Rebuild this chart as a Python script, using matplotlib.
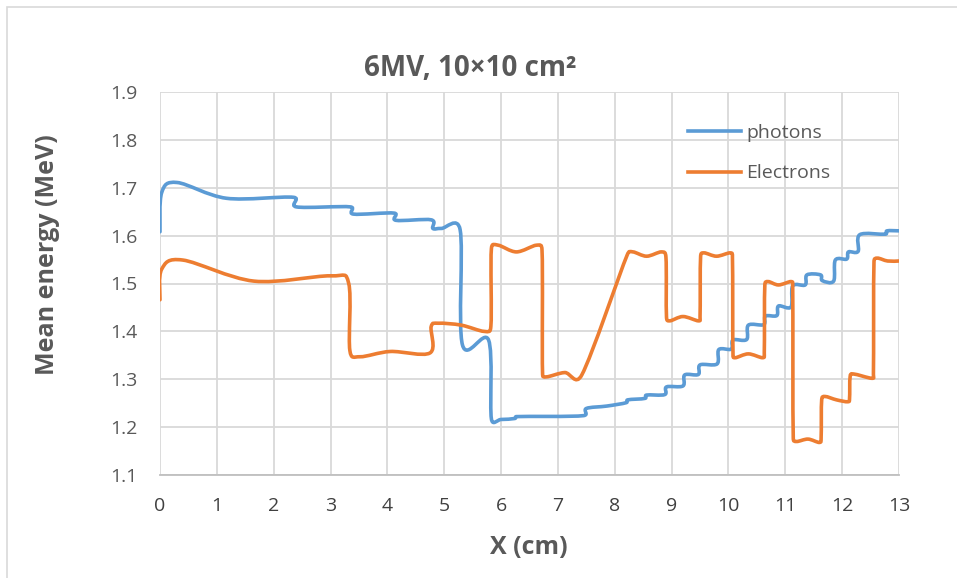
import matplotlib
matplotlib.use('Agg')
import matplotlib.pyplot as plt
from matplotlib.path import Path
from matplotlib.patches import PathPatch, Rectangle
from matplotlib.lines import Line2D
import numpy as np

# photons (blue)
photon_x = [0.0, 0.03, 0.3, 1.17, 2.35, 2.40, 3.35, 3.40, 4.12, 4.15, 4.77, 4.80,
            4.95, 5.28, 5.32, 5.78, 5.83, 6.0, 6.24, 6.27, 7.45, 7.50, 7.86, 8.2,
            8.23, 8.53, 8.56, 8.88, 8.91, 9.2, 9.23, 9.47, 9.50, 9.80, 9.83, 10.05,
            10.08, 10.32, 10.35, 10.62, 10.65, 10.85, 10.88, 11.1, 11.13, 11.35,
            11.38, 11.62, 11.65, 11.85, 11.88, 12.08, 12.11, 12.28, 12.31, 12.76,
            12.79, 13.0]
photon_y = [1.608, 1.69, 1.711, 1.678, 1.680, 1.660, 1.660, 1.645, 1.647, 1.632, 1.633, 1.615,
            1.615, 1.612, 1.372, 1.382, 1.217, 1.216, 1.218, 1.222, 1.224, 1.239, 1.244, 1.251,
            1.257, 1.260, 1.267, 1.268, 1.284, 1.286, 1.309, 1.310, 1.330, 1.332, 1.362, 1.363,
            1.382, 1.383, 1.413, 1.414, 1.432, 1.433, 1.453, 1.451, 1.495, 1.497,
            1.518, 1.518, 1.506, 1.505, 1.549, 1.551, 1.566, 1.567, 1.602, 1.603,
            1.610, 1.610]

# electrons (orange)
electron_x = [0.0, 0.03, 0.4, 1.65, 3.0, 3.32, 3.34, 3.52, 4.05, 4.75, 4.77, 4.9,
              5.3, 5.7, 5.82, 5.83, 5.95, 6.27, 6.62, 6.72, 6.73, 6.8, 7.12, 7.42,
              8.22, 8.32, 8.56, 8.82, 8.9, 8.91, 8.97, 9.2, 9.47, 9.5, 9.51, 9.57,
              9.79, 10.03, 10.07, 10.08, 10.12, 10.35, 10.6, 10.63, 10.64, 10.7,
              10.88, 11.1, 11.13, 11.14, 11.2, 11.4, 11.6, 11.63, 11.64, 11.7,
              11.9, 12.1, 12.13, 12.14, 12.2, 12.52, 12.55, 12.56, 12.62, 12.8, 13.0]
electron_y = [1.466, 1.53, 1.549, 1.505, 1.516, 1.50, 1.36, 1.347, 1.358, 1.355, 1.41, 1.417,
              1.413, 1.40, 1.41, 1.573, 1.58, 1.566, 1.58, 1.57, 1.312, 1.305, 1.314, 1.309,
              1.56, 1.566, 1.557, 1.566, 1.555, 1.43, 1.422, 1.431, 1.422, 1.43, 1.556, 1.564,
              1.557, 1.564, 1.555, 1.352, 1.345, 1.353, 1.345, 1.355, 1.497, 1.504,
              1.497, 1.504, 1.495, 1.177, 1.170, 1.175, 1.168, 1.178, 1.257, 1.264,
              1.257, 1.253, 1.26, 1.305, 1.311, 1.302, 1.31, 1.545, 1.553, 1.547, 1.547]

x_ticks = list(range(0, 14))
y_ticks = [1.1, 1.2, 1.3, 1.4, 1.5, 1.6, 1.7, 1.8, 1.9]


def smooth_path(xs, ys, sx, sy, k=0.8):
    # Excel-like smoothed line: Catmull-Rom Bezier handles, clamped so short
    # segments next to vertical jumps do not overshoot
    p = np.column_stack([xs, ys])
    scale = np.array([sx, sy])
    n = len(p)
    verts = [p[0]]
    codes = [Path.MOVETO]

    def clamp(h, seg):
        hl = np.hypot(*(h * scale))
        sl = np.hypot(*(seg * scale))
        if hl > k * sl and hl > 0:
            h = h * (k * sl / hl)
        return h

    for i in range(n - 1):
        p0 = p[i - 1] if i > 0 else p[i]
        p1 = p[i]
        p2 = p[i + 1]
        p3 = p[i + 2] if i + 2 < n else p[i + 1]
        seg = p2 - p1
        c1 = p1 + clamp((p2 - p0) / 6.0, seg)
        c2 = p2 - clamp((p3 - p1) / 6.0, seg)
        verts += [c1, c2, p2]
        codes += [Path.CURVE4] * 3
    return Path(verts, codes)


plt.rcParams['font.family'] = ['Open Sans', 'DejaVu Sans']
grey = '#595959'

fig = plt.figure(figsize=(9.57, 5.78), dpi=100)
ax = fig.add_axes([160 / 957, 1 - 475 / 578, (899 - 160) / 957, (475 - 92) / 578])

blue = '#5b9bd5'
orange = '#ed7d31'

# pixels per data unit, used only to measure handle lengths
sx, sy = (899 - 160) / 13.0, (475 - 92) / 0.8
ax.add_patch(PathPatch(smooth_path(photon_x, photon_y, sx, sy), fill=False, edgecolor=blue,
                       lw=2.6, capstyle='round', joinstyle='round', zorder=3))
ax.add_patch(PathPatch(smooth_path(electron_x, electron_y, sx, sy), fill=False, edgecolor=orange,
                       lw=2.6, capstyle='round', joinstyle='round', zorder=3))

ax.set_xlim(0, 13)
ax.set_ylim(1.1, 1.9)
ax.set_xticks(x_ticks)
ax.set_yticks(y_ticks)
ax.set_yticklabels([f'{v:.1f}' for v in y_ticks])
ax.grid(True, color='#d9d9d9', lw=1.3)
ax.set_axisbelow(True)
for s in ['top', 'right', 'left']:
    ax.spines[s].set_visible(False)
ax.spines['bottom'].set_color('#bfbfbf')
ax.spines['bottom'].set_linewidth(1.3)
ax.tick_params(length=0)
ax.tick_params(axis='x', labelsize=14, labelcolor='#404040', pad=16)
ax.tick_params(axis='y', labelsize=14, labelcolor=grey, pad=16)

fig.text(470 / 957, 1 - 68 / 578, '6MV, 10×10 cm²', fontsize=20, fontweight='bold',
         color=grey, ha='center', va='center')
fig.text(529 / 957, 1 - 548 / 578, 'X (cm)', fontsize=18, fontweight='bold',
         color=grey, ha='center', va='center')
fig.text(48 / 957, 1 - 255 / 578, 'Mean energy (MeV)', fontsize=18, fontweight='bold',
         color=grey, ha='center', va='center', rotation=90)

handles = [Line2D([], [], color=blue, lw=2.6), Line2D([], [], color=orange, lw=2.6)]
fig.legend(handles, ['photons', 'Electrons'], loc='upper left',
           bbox_to_anchor=(688 / 957, 1 - 124 / 578), borderaxespad=0, borderpad=0,
           frameon=False, fontsize=14, labelcolor=grey, handlelength=2.7,
           handletextpad=0.3, labelspacing=1.15)

fig.patches.append(Rectangle((7 / 957, -0.1), 1.2, 1 - 7 / 578 + 0.1, transform=fig.transFigure,
                             fill=False, edgecolor='#d9d9d9', lw=1.2))

plt.savefig('out.png', dpi=100)
plt.close()
